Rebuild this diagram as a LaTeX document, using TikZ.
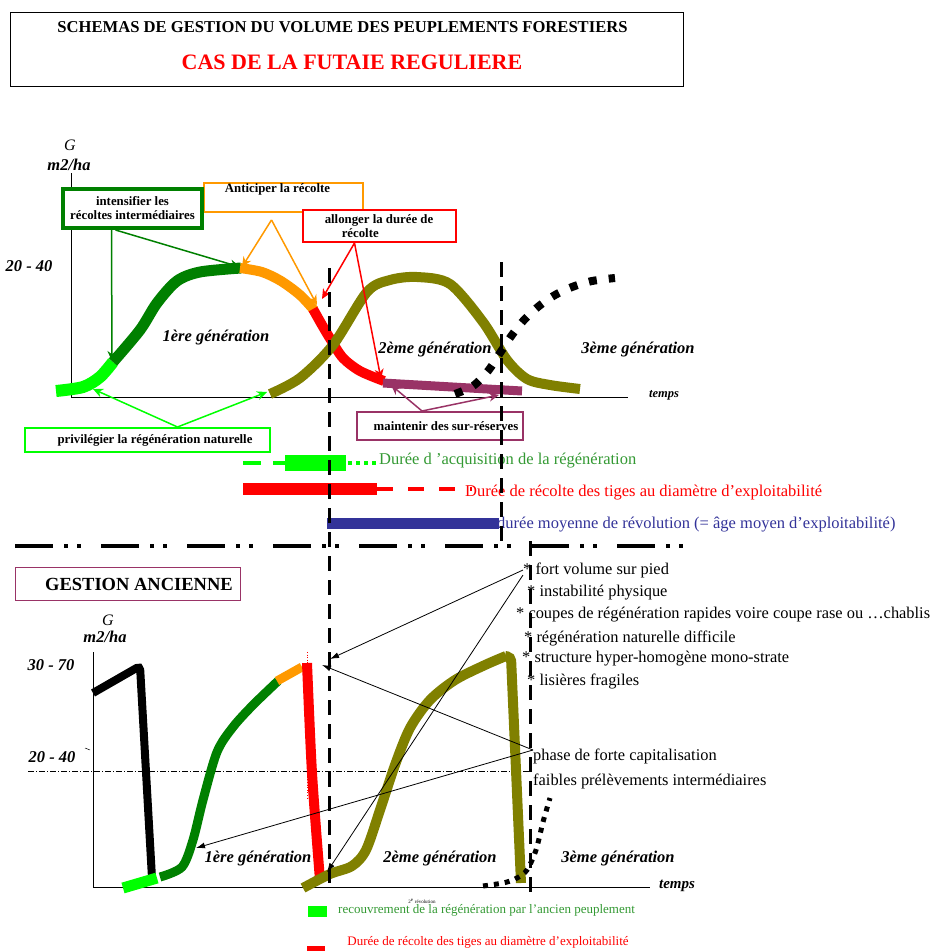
\documentclass[tikz,border=0pt]{standalone}
\usepackage{fontspec}
\setmainfont{Liberation Serif}
\usetikzlibrary{arrows.meta}

\definecolor{vertfonce}{HTML}{008000}
\definecolor{vertclair}{HTML}{00FF00}
\definecolor{verttexte}{HTML}{339933}
\definecolor{orange}{HTML}{FF9900}
\definecolor{rouge}{HTML}{FF0000}
\definecolor{violet}{HTML}{993366}
\definecolor{olive}{HTML}{808000}
\definecolor{bleu}{HTML}{333399}

\tikzstyle{cadre}=[draw,fill=white,line width=2pt,align=center,inner sep=1pt,font=\bfseries\fontsize{12.8}{14}\selectfont]
\tikzstyle{gene}=[inner sep=0pt,font=\bfseries\itshape\fontsize{16.5}{18}\selectfont]
\tikzstyle{puce}=[anchor=west,inner sep=0pt,font=\fontsize{16.4}{18}\selectfont]
\tikzstyle{legende}=[anchor=west,inner sep=0pt,font=\fontsize{16.5}{18}\selectfont]
\tikzstyle{valeur}=[inner sep=0pt,font=\bfseries\itshape\fontsize{16.5}{18}\selectfont]
\tikzstyle{fleche}=[line width=1.5pt,-{Stealth[length=10pt,width=9pt]}]
\tikzstyle{flechenoire}=[line width=0.8pt,-{Latex[length=9pt,width=6pt]}]
\tikzstyle{coupe}=[line width=3pt,dash pattern=on 15pt off 9pt]
\tikzstyle{axe}=[line width=0.9pt]

\begin{document}
\begin{tikzpicture}[x=1pt,y=-1pt]
    \useasboundingbox (0,0) rectangle (931,951);

    % titre
    \draw[line width=0.8pt] (10,12) rectangle (683,86);
    \node (titre1) at (342.5,27) [font=\bfseries\fontsize{16.6}{18}\selectfont] {SCHEMAS DE GESTION DU VOLUME DES PEUPLEMENTS FORESTIERS};
    \node (titre2) at (352,62) [text=rouge,font=\bfseries\fontsize{22}{24}\selectfont] {CAS DE LA FUTAIE REGULIERE};

    % schema du haut
    \draw[axe] (71,173) -- (71,397) -- (628,397);
    \node (G1) at (70,145) [inner sep=0pt,font=\itshape\fontsize{16}{18}\selectfont] {G};
    \node (unite1) at (69,165) [valeur] {m2/ha};
    \node (val1) at (29,266) [valeur] {20 - 40};
    \node (temps1) at (664,395) [inner sep=0pt,font=\bfseries\itshape\fontsize{12.5}{14}\selectfont] {temps};

    \draw[vertclair,line width=12pt] plot[smooth] coordinates {(56,391) (83,387) (100,377) (113,362)};
    \draw[vertfonce,line width=11pt] plot[smooth] coordinates {(113,362) (140,330) (157,303) (177,281) (200,272) (241,268)};
    \draw[orange,line width=10pt] plot[smooth] coordinates {(240,268) (262,272) (281,281) (300,295) (314,310)};
    \draw[rouge,line width=10pt] plot[smooth] coordinates {(313,309) (322,325) (331,340) (343,358) (360,371) (384,381)};
    \draw[olive,line width=10pt] plot[smooth] coordinates {(270,394) (300,378) (333,345) (367,292) (390,280) (417,277) (450,284) (483,322) (507,360) (527,379) (550,385) (580,389)};
    \draw[violet,line width=9pt] (383,383) -- (522,391);
    \draw[line width=8pt,dash pattern=on 8pt off 12pt] plot[smooth] coordinates {(455,394) (473,386) (488,371) (500,353) (512,335) (524,320) (539,306) (555,295) (572,287) (592,281) (615,278)};

    \node (gen1) at (216,338) [gene] {1ère génération};
    \node (gen2) at (435,350) [gene] {2ème génération};
    \node (gen3) at (638,350) [gene] {3ème génération};

    \coordinate (vert1) at (112,361);
    \coordinate (vert2) at (240,267);
    \coordinate (ora1) at (242,267);
    \coordinate (ora2) at (317,305);
    \coordinate (rou1) at (322,299);
    \coordinate (rou2) at (381,379);
    \coordinate (clair1) at (93,389);
    \coordinate (clair2) at (267,392);
    \coordinate (vio1) at (391,385);
    \coordinate (vio2) at (499,395);

    \node (obox) at (283.5,197.5) [cadre,draw=orange,minimum width=159,minimum height=27] {\hspace*{-12pt}Anticiper la récolte\\[4pt]};
    \node (gbox) at (132.5,208.5) [cadre,draw=vertfonce,line width=4pt,minimum width=139,minimum height=39] {intensifier les\\récoltes intermédiaires};
    \node (rbox) at (379.5,226) [cadre,draw=rouge,align=left,minimum width=153,minimum height=32] {\hspace*{-1pt}allonger la durée de\\\hspace*{16pt}récolte};
    \node (lgbox) at (147.5,440) [cadre,draw=vertclair,minimum width=245,minimum height=24] {\hspace*{15pt}privilégier la régénération naturelle};
    \node (pbox) at (440,426) [cadre,draw=violet,minimum width=166,minimum height=28] {\hspace*{12pt}maintenir des sur-réserves};

    \draw[fleche,vertfonce] ([xshift=-21pt]gbox.south) -- (vert1);
    \draw[fleche,vertfonce] ([xshift=-17pt]gbox.south) -- (vert2);
    \draw[fleche,orange] ([xshift=-12pt,yshift=-7pt]obox.south) -- (ora1);
    \draw[fleche,orange] ([xshift=-12pt,yshift=-7pt]obox.south) -- (ora2);
    \draw[fleche,rouge] ([xshift=-25pt]rbox.south) -- (rou1);
    \draw[fleche,rouge] ([xshift=-25pt]rbox.south) -- (rou2);
    \draw[fleche,vertclair] ([xshift=30pt]lgbox.north) -- (clair1);
    \draw[fleche,vertclair] ([xshift=30pt]lgbox.north) -- (clair2);
    \draw[fleche,violet] ([xshift=-18pt]pbox.north) -- (vio1);
    \draw[fleche,violet] ([xshift=-18pt]pbox.north) -- (vio2);

    % durees
    \draw[vertclair,line width=4pt,dash pattern=on 18pt off 12pt] (243,463) -- (285,463);
    \fill[vertclair] (285,455) rectangle (346,471);
    \draw[vertclair,line width=4pt,dash pattern=on 4pt off 4pt] (348,463) -- (378,463);
    \node (acquis) at (379,461) [legende,text=verttexte] {Durée d 'acquisition de la régénération};
    \fill[rouge] (243,483) rectangle (377,495);
    \draw[rouge,line width=4pt,dash pattern=on 16pt off 15pt] (377,489) -- (472,489);
    \node (recolte) at (465,493) [legende,text=rouge] {Durée de récolte des tiges au diamètre d'exploitabilité};
    \fill[bleu] (327,518) rectangle (499,529);
    \node (revol) at (497,525) [legende,text=bleu] {durée moyenne de révolution (= âge moyen d’exploitabilité)};

    \draw[line width=4pt,dash pattern=on 38pt off 11pt on 4pt off 9pt on 4pt off 20pt] (15,546) -- (695,546);

    % schema du bas
    \node (ancien) at (128,584) [draw=violet,line width=1.5pt,minimum width=225,minimum height=33,font=\bfseries\fontsize{18.5}{20}\selectfont] {\hspace*{22pt}GESTION ANCIENNE};
    \node (G2) at (108,620) [inner sep=0pt,font=\itshape\fontsize{16}{18}\selectfont] {G};
    \node (unite2) at (105,637) [valeur] {m2/ha};
    \node (val2) at (51,665) [valeur] {30 - 70};
    \node (val3) at (52,757) [valeur] {20 - 40};
    \draw[line width=0.5pt] (85,748) -- (90,750);
    \draw[axe] (93,652) -- (93,887) -- (650,887);
    \node (temps2) at (677,886) [inner sep=0pt,font=\bfseries\itshape\fontsize{15}{16}\selectfont] {temps};
    \draw[line width=0.6pt,dash pattern=on 6pt off 2pt on 1pt off 2pt] (28,771) -- (530,771);
    \draw[rouge,line width=0.6pt,dotted] (307,652) -- (307,800);

    \draw[line width=8pt,rounded corners=4pt] (93,693) -- (140,666) -- (152,878);
    \draw[vertclair,line width=11pt] (123,888) -- (157,878);
    \draw[vertfonce,line width=9pt] plot[smooth] coordinates {(160,877) (182,867) (193,840) (203,800) (217,752) (233,727) (253,705) (278,681)};
    \draw[orange,line width=9pt] (277,681) -- (302,667);
    \draw[rouge,line width=10pt] plot[smooth] coordinates {(307,663) (312,773) (320,880)};
    \draw[olive,line width=10pt] plot[smooth] coordinates {(303,888) (330,874) (352,866) (366,850) (380,810) (395,765) (410,728) (430,700) (455,680) (485,665) (506,656)};
    \draw[olive,line width=10pt,rounded corners=4pt] (505,656) -- (511,657) -- (521,883);
    \draw[line width=5pt,dash pattern=on 5pt off 6pt] plot[smooth] coordinates {(483,886) (497,884) (507,882) (517,878) (527,870) (536,850) (543,822) (550,798)};

    \node (gen4) at (258,859) [gene] {1ère génération};
    \node (gen5) at (440,859) [gene] {2ème génération};
    \node (gen6) at (618,859) [gene] {3ème génération};

    % coupes
    \draw[coupe] (329,268) -- (329,890);
    \draw[coupe] (501,262) -- (501,548);
    \draw[coupe] (530,541) -- (530,892);

    % constats
    \node (fort) at (523,570) [puce] {* fort volume sur pied};
    \node (instab) at (527,593) [puce] {* instabilité physique};
    \node (coupes) at (516,615) [puce] {* coupes de régénération rapides voire coupe rase ou …chablis};
    \node (regen) at (524,638) [puce] {* régénération naturelle difficile};
    \node (struct) at (522,659) [puce] {* structure hyper-homogène mono-strate};
    \node (lisiere) at (527,681) [puce] {* lisières fragiles};
    \node (phase) at (533,756) [puce] {phase de forte capitalisation};
    \node (faibles) at (533,781) [puce] {faibles prélèvements intermédiaires};

    \coordinate (haut) at (330,659);
    \coordinate (bas) at (327,872);
    \coordinate (sommet) at (322,665);
    \coordinate (pente) at (196,848);
    \draw[flechenoire] (fort.west) -- (haut);
    \draw[flechenoire] ([yshift=-5pt]fort.west) -- (bas);
    \draw[flechenoire] ([yshift=6pt]phase.west) -- (sommet);
    \draw[flechenoire] ([yshift=6pt]phase.west) -- (pente);

    % legende du bas
    \node (revol2) at (422,901) [font=\fontsize{5}{6}\selectfont] {2\textsuperscript{e} révolution};
    \fill[vertclair] (308,906) rectangle (327,917);
    \node (recouv) at (338,910) [anchor=west,inner sep=0pt,text=verttexte,font=\fontsize{13}{14}\selectfont] {recouvrement de la régénération par l’ancien peuplement};
    \fill[rouge] (307,946) rectangle (325,951);
    \node (recolte2) at (488,942) [inner sep=0pt,text=rouge,font=\fontsize{13}{14}\selectfont] {Durée de récolte des tiges au diamètre d'exploitabilité};
\end{tikzpicture}
\end{document}
